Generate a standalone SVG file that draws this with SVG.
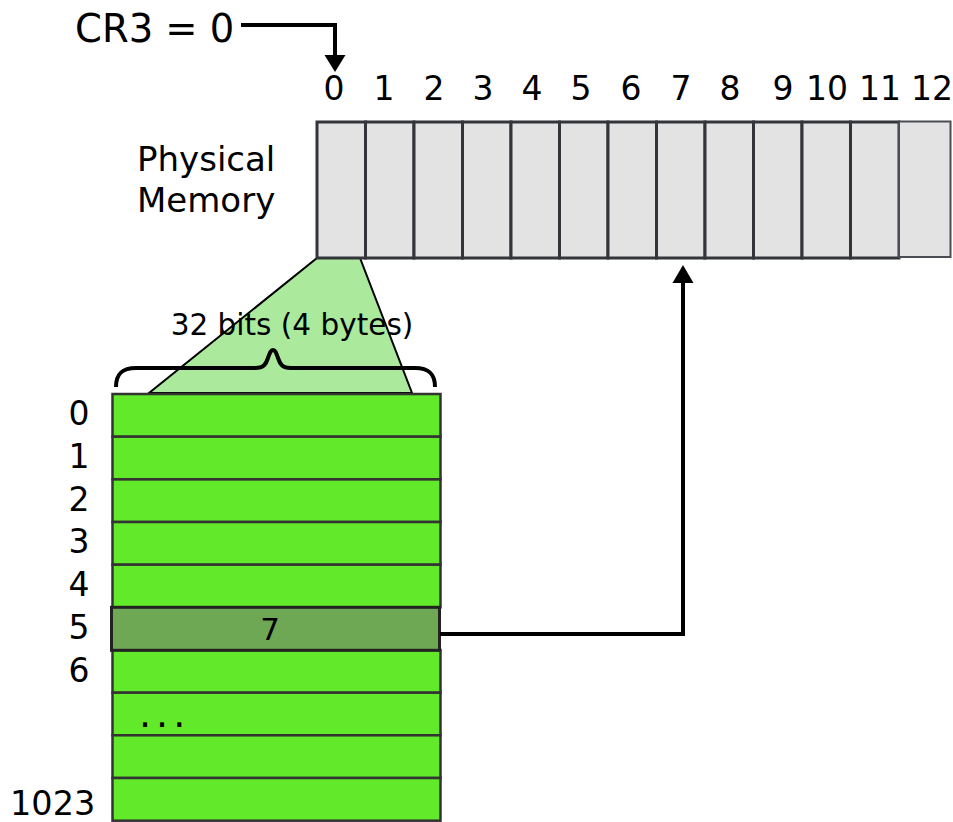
<svg xmlns="http://www.w3.org/2000/svg" width="953" height="822" viewBox="0 0 953 822">
<style>
text{font-family:"DejaVu Sans",sans-serif;fill:#000}
.lbl{font-size:33px;text-anchor:middle}
.cell{fill:#e3e3e3;stroke:#33353b;stroke-width:3}
.row{fill:#62e92a;stroke:#333;stroke-width:2.5}
.conn{fill:none;stroke:#000;stroke-width:4}
</style>
<rect width="953" height="822" fill="#fff"/>
<g id="cr3"><text x="75" y="42" style="font-size:38.5px">CR3 = 0</text></g>
<g id="physical-memory-label"><text x="137" y="171" style="font-size:34px">Physical</text><text x="137" y="212" style="font-size:34px">Memory</text></g>
<g id="memory-labels">
<text class="lbl" x="334" y="100">0</text><text class="lbl" x="384" y="100">1</text><text class="lbl" x="434" y="100">2</text><text class="lbl" x="483" y="100">3</text><text class="lbl" x="532" y="100">4</text><text class="lbl" x="581" y="100">5</text><text class="lbl" x="631" y="100">6</text><text class="lbl" x="681" y="100">7</text><text class="lbl" x="730" y="100">8</text><text class="lbl" x="783" y="100">9</text><text class="lbl" x="827" y="100">10</text><text class="lbl" x="880" y="100">11</text><text class="lbl" x="932" y="100">12</text>
</g>
<g id="trapezoid"><polygon points="317,258 360,258 412,393 149,393" fill="#abe99d" stroke="#000" stroke-width="2"/></g>
<g id="physical-memory">
<rect class="cell" x="317" y="122" width="48.5" height="136"/>
<rect class="cell" x="365.5" y="122" width="48.5" height="136"/>
<rect class="cell" x="414" y="122" width="48.5" height="136"/>
<rect class="cell" x="462.5" y="122" width="48.5" height="136"/>
<rect class="cell" x="511" y="122" width="48.5" height="136"/>
<rect class="cell" x="559.5" y="122" width="48.5" height="136"/>
<rect class="cell" x="608" y="122" width="48.5" height="136"/>
<rect class="cell" x="656.5" y="122" width="48.5" height="136"/>
<rect class="cell" x="705" y="122" width="48.5" height="136"/>
<rect class="cell" x="753.5" y="122" width="48.5" height="136"/>
<rect class="cell" x="802" y="122" width="48.5" height="136"/>
<rect class="cell" x="850.5" y="122" width="48.5" height="136"/>
<rect x="899" y="121.5" width="51.5" height="135.5" fill="#e3e3e3" stroke="#4a4d53" stroke-width="2"/>
</g>
<g id="brace"><text x="292" y="335" style="font-size:29.5px;text-anchor:middle">32 bits (4 bytes)</text>
<path d="M116,387 C116,374 122,368 136,368 L255,368 C264,368 266,364 268,358 C270,352 271,350 273,350 C275,350 276,352 278,358 C280,364 282,368 291,368 L415,368 C429,368 435,374 435,387" fill="none" stroke="#000" stroke-width="4"/></g>
<g id="page-table">
<rect class="row" x="112.5" y="394" width="328" height="42.7"/>
<rect class="row" x="112.5" y="436.7" width="328" height="42.7"/>
<rect class="row" x="112.5" y="479.4" width="328" height="42.6"/>
<rect class="row" x="112.5" y="522" width="328" height="42.7"/>
<rect class="row" x="112.5" y="564.7" width="328" height="42.6"/>
<rect class="row" x="112.5" y="650" width="328" height="42.7"/>
<rect class="row" x="112.5" y="692.7" width="328" height="42.6"/>
<rect class="row" x="112.5" y="735.3" width="328" height="42.7"/>
<rect class="row" x="112.5" y="778" width="328" height="42.7"/>
<text x="139" y="727" style="font-size:38px;letter-spacing:5px">...</text>
</g>
<g id="entry-5"><rect x="111.5" y="607.3" width="328" height="43" fill="#6fa855" stroke="#222" stroke-width="3"/><text x="270" y="640" style="font-size:31px;text-anchor:middle">7</text></g>
<g id="row-labels">
<text class="lbl" x="79" y="425">0</text><text class="lbl" x="79" y="468">1</text><text class="lbl" x="79" y="511">2</text><text class="lbl" x="79" y="553">3</text><text class="lbl" x="79" y="596">4</text><text class="lbl" x="79" y="639">5</text><text class="lbl" x="79" y="682">6</text>
<text x="10" y="815" style="font-size:33.5px">1023</text>
</g>
<g id="connectors">
<path class="conn" d="M241,25 H335 V56"/>
<polygon points="324.5,55 345.5,55 335,72"/>
<path class="conn" d="M440,634 H683 V282"/>
<polygon points="672.5,283 693.5,283 683,265"/>
</g>
</svg>
